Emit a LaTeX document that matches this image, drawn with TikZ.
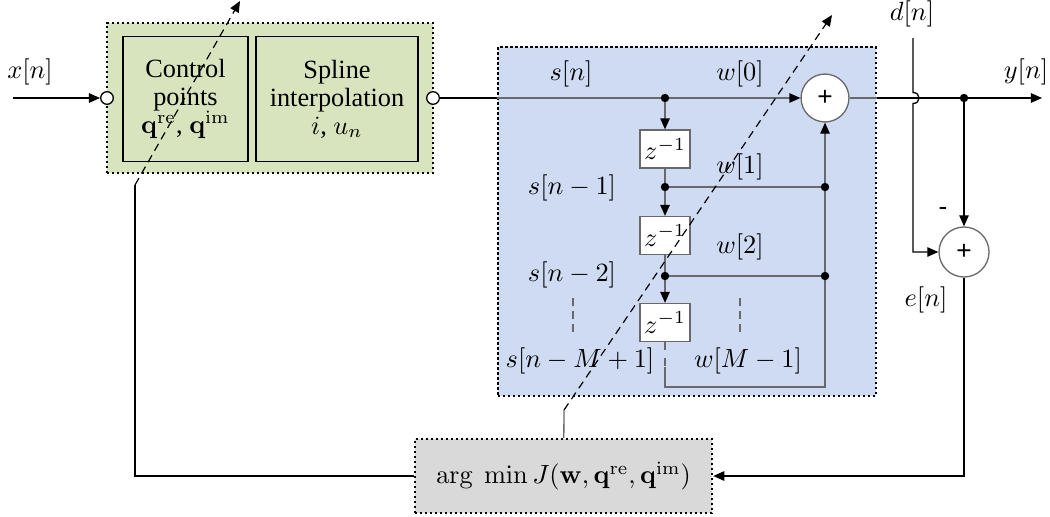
\documentclass[tikz,border=0pt]{standalone}
\usepackage[no-math]{fontspec}
\setmainfont{Liberation Serif}
\newfontfamily\plusfont{Liberation Sans}
\newcommand\tightlines{\fontsize{10pt}{10.6pt}\selectfont}
\usetikzlibrary{arrows.meta}
\definecolor{greenfill}{RGB}{215,228,189}
\definecolor{bluefill}{RGB}{207,219,242}
\definecolor{grayfill}{RGB}{217,217,217}
\definecolor{innerline}{RGB}{105,105,105}
\begin{document}
\begin{tikzpicture}[x=0.38pt,y=-0.38pt,
  groupbox/.style={draw=black, densely dotted, line width=0.9pt, inner sep=0pt},
  innerbox/.style={draw=black, fill=greenfill, line width=0.6pt, inner sep=0pt, align=center,
    font=\tightlines},
  zbox/.style={draw=innerline, fill=white, line width=0.5pt, inner sep=0pt, minimum width=19pt, minimum height=14.4pt},
  sumc/.style={circle, draw=innerline, fill=white, line width=0.5pt, inner sep=0pt, font=\plusfont},
  port/.style={circle, draw=black, fill=white, line width=0.5pt, inner sep=0pt, minimum size=4.8pt},
  arr/.style={-{Triangle[length=4.2pt,width=3.6pt,color=black]}},
  blk/.style={draw=black, line width=0.5pt},
  gl/.style={draw=innerline, line width=0.5pt},
  dsh/.style={draw=black, line width=0.45pt, dash pattern=on 3pt off 2pt},
  dot/.style={fill=black},
  lab/.style={inner sep=1pt}
]
\useasboundingbox (0,0) rectangle (1050,516);

% group boxes
\node[groupbox, fill=greenfill, minimum width=123.9pt, minimum height=57pt] (grp) at (270,98) {};
\node[groupbox, fill=bluefill, minimum width=143.6pt, minimum height=132.6pt] (fir) at (687,221.5) {};
\node[groupbox, fill=grayfill, minimum width=112.9pt, minimum height=28.1pt] (argmin) at (563.5,476)
  {$\arg\ \min J(\mathbf{w},\mathbf{q}^{\mathrm{re}},\mathbf{q}^{\mathrm{im}})$};

% spline blocks
\node[innerbox, minimum width=47.5pt, minimum height=47.5pt] (cp) at (185.5,99)
  {Control\\points\\$\mathbf{q}^{\mathrm{re}}$, $\mathbf{q}^{\mathrm{im}}$};
\node[innerbox, minimum width=61.6pt, minimum height=47.5pt] (si) at (337,99)
  {Spline\\interpolation\\$i$, $u_n$};

% input/output ports
\node[port] (pin) at (107,98) {};
\node[port] (pout) at (433,98) {};
\coordinate (xin) at (13,98);
\node[lab] (xlab) at (30,72) {$x[n]$};
\draw[blk,arr] (xin) -- (pin);

% FIR structure
\node[sumc, minimum size=18.2pt] (sum) at (825,98) {+};
\node[zbox] (z1) at (665,149) {$z^{-1}$};
\node[zbox] (z2) at (665,235.5) {$z^{-1}$};
\node[zbox] (z3) at (665,322.5) {$z^{-1}$};
\coordinate (j0) at (665,98);
\coordinate (j1) at (665,187);
\coordinate (j2) at (665,276);
\coordinate (r1) at (825,187);
\coordinate (r2) at (825,276);
\coordinate (r3) at (825,387);
\coordinate (b3) at (665,387);
\coordinate (b3d) at (665,367);

\draw[blk] (pout) -- (pout -| fir.west);
\draw[gl,arr] (pout -| fir.west) -- (sum);
\draw[gl,arr] (j0) -- (z1);
\draw[gl] (z1) -- (j1);
\draw[gl,arr] (j1) -- (z2);
\draw[gl] (z2) -- (j2);
\draw[gl,arr] (j2) -- (z3);
\draw[gl,dashed] (z3) -- (b3d);
\draw[gl,arr] (b3d) -- (b3) -- (r3) -- (sum);
\draw[gl] (j1) -- (r1);
\draw[gl] (j2) -- (r2);
\foreach \p in {j0,j1,j2,r1,r2} \fill[dot] (\p) circle (1.6pt);

% dashed continuation marks
\coordinate (dl1) at (573,298); \coordinate (dl2) at (573,337);
\coordinate (dr1) at (740,298); \coordinate (dr2) at (740,337);
\draw[gl,dash pattern=on 3pt off 2pt] (dl1) -- (dl2);
\draw[gl,dash pattern=on 3pt off 2pt] (dr1) -- (dr2);

% FIR labels
\node[lab] (ls0) at (571,74) {$s[n]$};
\node[lab] (lw0) at (740,74) {$w[0]$};
\node[lab] (ls1) at (572,188) {$s[n-1]$};
\node[lab] (lw1) at (740,167) {$w[1]$};
\node[lab] (ls2) at (572,275) {$s[n-2]$};
\node[lab] (lw2) at (740,247) {$w[2]$};
\node[lab] (lsm) at (580,361) {$s[n-M+1]$};
\node[lab] (lwm) at (748,361) {$w[M-1]$};

% output and error
\coordinate (yout) at (1042,98);
\coordinate (jy) at (964,98);
\draw[gl] (sum) -- (sum -| fir.east);
\draw[blk,arr] (sum -| fir.east) -- (yout);
\fill[dot] (jy) circle (1.6pt);
\node[lab] (ylab) at (1026,72) {$y[n]$};

\node[sumc, minimum size=19pt] (sum2) at (964,252) {+};
\coordinate (dtop) at (913,38);
\coordinate (h1) at (913,92.5);
\coordinate (h2) at (913,103.5);
\node[lab] (dlab) at (912,14) {$d[n]$};
\draw[blk,arr] (dtop) -- (h1) .. controls (921,92.5) and (921,103.5) .. (h2) -- (dtop |- sum2) -- (sum2);
\draw[blk,arr] (jy) -- (sum2);
\node[lab,font=\plusfont] (minus) at (943,211) {-};
\node[lab] (elab) at (926,300) {$e[n]$};

% feedback
\draw[blk,arr] (sum2) -- (sum2 |- argmin.east) -- (argmin);
\coordinate (fbc) at (135,185);
\coordinate (tip1) at (240,1);
\draw[blk] (argmin) -- (argmin.west -| fbc) -- (fbc);
\draw[dsh,arr] (fbc) -- (tip1);
\coordinate (fb2) at (564,410);
\coordinate (tip2) at (832,15);
\draw[gl] (argmin) -- (fb2);
\draw[dsh,arr] (fb2) -- (tip2);
\end{tikzpicture}
\end{document}
